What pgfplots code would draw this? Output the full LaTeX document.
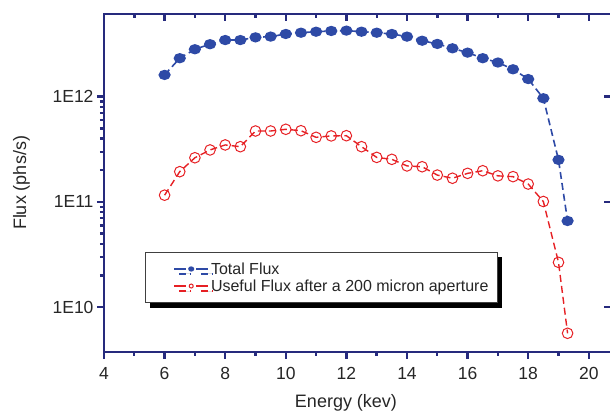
\documentclass[border=0pt]{standalone}
\usepackage{pgfplots}
\usepackage{pgfplotstable}
\pgfplotsset{compat=1.18}
\usepackage{fontspec}
\setmainfont{Liberation Sans}
\usetikzlibrary{shadows}

\definecolor{axisnavy}{RGB}{38,42,125}
\definecolor{fluxblue}{RGB}{46,74,166}
\definecolor{fluxred}{RGB}{230,32,36}

% total flux (phs/s) vs energy (kev)
\pgfplotstableread{
E flux
6    1.61e12
6.5  2.32e12
7    2.82e12
7.5  3.15e12
8    3.45e12
8.5  3.45e12
9    3.66e12
9.5  3.72e12
10   3.94e12
10.5 4.05e12
11   4.14e12
11.5 4.21e12
12   4.24e12
12.5 4.14e12
13   4.05e12
13.5 3.94e12
14   3.72e12
14.5 3.40e12
15   3.17e12
15.5 2.88e12
16   2.62e12
16.5 2.32e12
17   2.11e12
17.5 1.82e12
18   1.47e12
18.5 9.66e11
19   2.51e11
19.3 6.6e10
}\totalflux

% useful flux after a 200 micron aperture
\pgfplotstableread{
E flux
6    1.16e11
6.5  1.94e11
7    2.63e11
7.5  3.12e11
8    3.48e11
8.5  3.35e11
9    4.72e11
9.5  4.72e11
10   4.90e11
10.5 4.75e11
11   4.11e11
11.5 4.24e11
12   4.26e11
12.5 3.35e11
13   2.65e11
13.5 2.54e11
14   2.20e11
14.5 2.16e11
15   1.80e11
15.5 1.68e11
16   1.87e11
16.5 1.98e11
17   1.77e11
17.5 1.74e11
18   1.48e11
18.5 1.01e11
19   2.67e10
19.3 5.66e9
}\usefulflux

\begin{document}
\begin{tikzpicture}
\useasboundingbox (0,0) rectangle (610bp,411bp);

% ticks hanging into the box from top and right
\begin{axis}[
    at={(104bp,59bp)}, anchor=south west,
    scale only axis, width=507bp, height=338bp,
    xmin=4, xmax=20.733,
    ymode=log, ymin=3.76e9, ymax=6.1e12,
    xtick={4,6,...,20}, minor x tick num=1,
    ytick={1e10,1e11,1e12}, yminorticks=false,
    axis line style={axisnavy, line width=2.8bp},
    major tick length=7bp, minor tick length=4bp,
    every tick/.append style={axisnavy, line width=2.4bp},
    tick align=inside, xtick pos=top, ytick pos=right,
    xticklabels={}, yticklabels={}]
\addplot[draw=none] coordinates {(5,1e11)};
\end{axis}

\begin{axis}[
    at={(104bp,59bp)}, anchor=south west,
    scale only axis, width=507bp, height=338bp,
    xmin=4, xmax=20.733,
    ymode=log, ymin=3.76e9, ymax=6.1e12,
    xtick={4,6,...,20}, minor x tick num=1,
    ytick={1e10,1e11,1e12}, yticklabels={1E10,1E11,1E12},
    axis line style={axisnavy, line width=2.8bp},
    major tick length=7bp, minor tick length=4bp,
    every tick/.append style={axisnavy, line width=2.4bp},
    tick align=outside, xtick pos=bottom, ytick pos=left,
    tick label style={font=\fontsize{17.5bp}{20bp}\selectfont, text=black!85},
    /pgf/number format/assume math mode=true,
    xticklabel style={yshift=-5bp},
    xlabel={Energy (kev)}, ylabel={Flux (phs/s)},
    label style={font=\fontsize{18bp}{21bp}\selectfont, text=black!85},
    xlabel style={at={(axis description cs:0.5,0)}, anchor=base, yshift=-56bp, xshift=-11.5bp},
    ylabel style={at={(axis description cs:-0.1627,0.5)}, anchor=center},
    legend cell align=left,
    legend style={at={(axis description cs:0.0809,0.145)}, anchor=south west,
      draw=black!75, line width=0.8bp, fill=white,
      drop shadow={shadow xshift=5bp, shadow yshift=-5bp, fill=black, opacity=1},
      inner xsep=7bp, inner ysep=8bp,
      font=\fontsize{16bp}{18bp}\selectfont, text=black!85},
    legend image code/.code={
      \path (-21bp,0bp);
      \draw[#1, solid, line width=1.6bp, mark=none] (0bp,0bp) -- (12bp,0bp);
      \draw[#1, solid, line width=1.6bp, mark=none] (22bp,0bp) -- (34bp,0bp);
      \draw[#1, solid, mark size=2bp] plot coordinates {(17bp,0bp)};
    },
  ]
\addplot[fluxblue, line width=1.6bp, dash pattern=on 7bp off 4bp,
    mark=*, mark size=4.8bp,
    mark options={solid, fill=fluxblue, draw=fluxblue, xscale=1.1, yscale=0.9}]
    table[x=E, y=flux] {\totalflux};
\addlegendentry{Total Flux}
\addplot[fluxred, line width=1.4bp, dash pattern=on 7bp off 4bp,
    mark=o, mark size=5.3bp,
    mark options={solid, fill=white, draw=fluxred, line width=1bp}]
    table[x=E, y=flux] {\usefulflux};
\addlegendentry{Useful Flux after a 200 micron aperture}
\end{axis}
\end{tikzpicture}
\end{document}
